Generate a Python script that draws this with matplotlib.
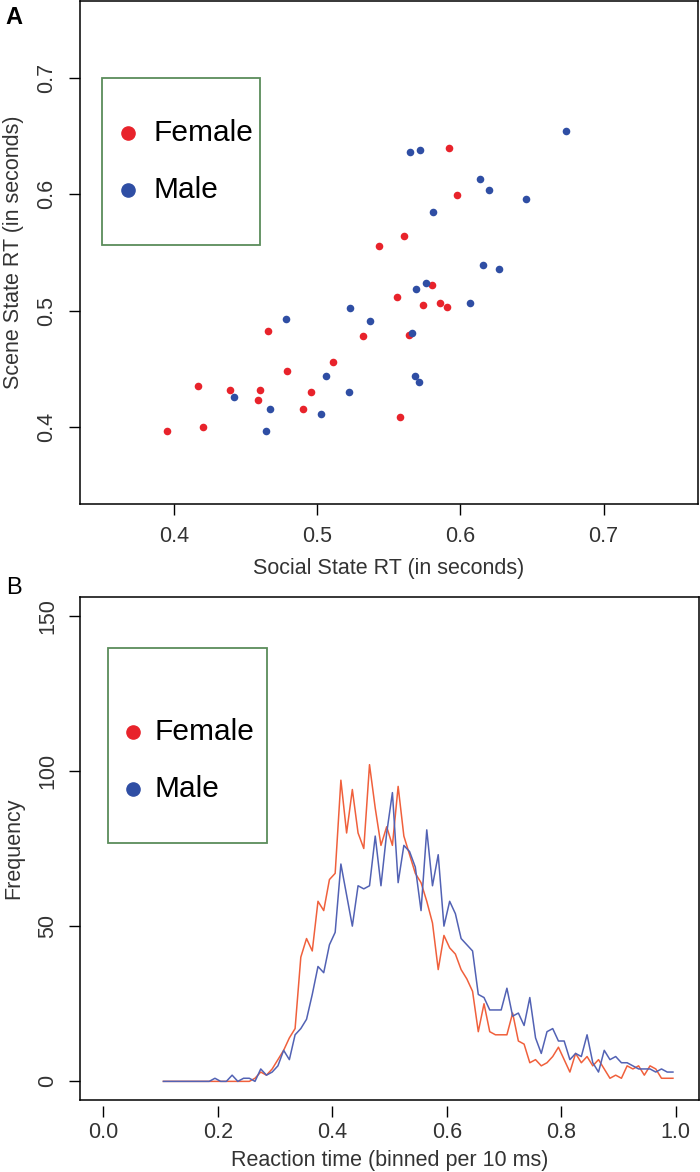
import matplotlib
matplotlib.use("Agg")
import matplotlib.pyplot as plt
from matplotlib.lines import Line2D
import numpy as np

plt.rcParams['font.family'] = ['Liberation Sans', 'DejaVu Sans']

# panel A: social vs scene state RT (seconds)
female_social = [0.395, 0.420, 0.417, 0.439, 0.460, 0.459, 0.466, 0.479, 0.490, 0.496,
                 0.511, 0.532, 0.543, 0.556, 0.558, 0.561, 0.564, 0.574, 0.580, 0.586,
                 0.591, 0.592, 0.598]
female_scene = [0.397, 0.400, 0.435, 0.432, 0.432, 0.423, 0.483, 0.448, 0.416, 0.430,
                0.456, 0.478, 0.556, 0.512, 0.409, 0.564, 0.479, 0.505, 0.522, 0.507,
                0.503, 0.640, 0.599]
male_social = [0.442, 0.464, 0.467, 0.478, 0.503, 0.506, 0.523, 0.522, 0.537, 0.565,
               0.566, 0.568, 0.572, 0.571, 0.569, 0.576, 0.581, 0.607, 0.614, 0.616,
               0.620, 0.627, 0.646, 0.674]
male_scene = [0.426, 0.397, 0.416, 0.493, 0.411, 0.444, 0.502, 0.430, 0.491, 0.636,
              0.481, 0.444, 0.638, 0.439, 0.519, 0.524, 0.585, 0.507, 0.613, 0.539,
              0.604, 0.536, 0.596, 0.654]

# panel B: RT histograms, 10 ms bins (bin centres 0.105 ... 0.995)
rt_bins = [round(0.105 + 0.01 * i, 3) for i in range(90)]
female_freq = [0, 0, 0, 0, 0, 0, 0, 0, 0, 0,
               0, 0, 0, 0, 0, 0, 1, 3, 2, 4,
               7, 10, 14, 17, 40, 46, 42, 58, 55, 65,
               67, 97, 80, 94, 80, 75, 102, 88, 76, 82,
               76, 95, 79, 73, 67, 64, 58, 51, 36, 47,
               43, 41, 36, 33, 29, 16, 25, 16, 15, 15,
               15, 22, 13, 12, 6, 7, 5, 6, 8, 11,
               7, 3, 9, 6, 8, 5, 7, 4, 1, 2,
               1, 5, 4, 5, 2, 5, 4, 1, 1, 1]
male_freq = [0, 0, 0, 0, 0, 0, 0, 0, 0, 1,
             0, 0, 2, 0, 1, 1, 0, 4, 2, 3,
             5, 10, 7, 15, 17, 20, 28, 37, 35, 44,
             48, 70, 60, 50, 63, 62, 63, 79, 63, 80,
             93, 64, 76, 74, 69, 55, 81, 63, 73, 50,
             58, 54, 46, 44, 42, 28, 27, 23, 23, 23,
             30, 21, 22, 18, 27, 14, 9, 16, 17, 13,
             13, 7, 9, 8, 15, 6, 3, 10, 7, 8,
             6, 6, 5, 4, 4, 4, 3, 4, 3, 3]

red_pt, blue_pt = "#e8232b", "#2f4ea4"
red_ln, blue_ln = "#f0603c", "#5262b4"
green = "#5b8c5b"
FS = 15.5

W, H = 700, 1172
fig = plt.figure(figsize=(W / 100, H / 100), dpi=100)


def px_axes(x0, x1, y0, y1):
    return fig.add_axes([x0 / W, 1 - y1 / H, (x1 - x0) / W, (y1 - y0) / H])


def style(ax, xpad):
    for s in ax.spines.values():
        s.set_linewidth(1.1)
    ax.tick_params(direction='out', length=8, width=1.0, labelsize=FS, labelcolor='#333333')
    ax.tick_params(axis='x', pad=xpad)
    ax.tick_params(axis='y', labelrotation=90, pad=8)
    for lab in ax.get_yticklabels():
        lab.set_verticalalignment('center')


def legend_box(ax, x0, x1, y0, y1, dot_x, text_x, y_f, y_m, col_f, col_m):
    ax.add_patch(plt.Rectangle((x0, y0), x1 - x0, y1 - y0, transform=ax.transAxes,
                               fill=False, edgecolor=green, lw=1.3, zorder=5))
    for yy, cc, name in [(y_f, col_f, "Female"), (y_m, col_m, "Male")]:
        ax.add_line(Line2D([dot_x], [yy], transform=ax.transAxes, marker='o',
                           markersize=9.5, color=cc, zorder=6))
        ax.text(text_x, yy, name, transform=ax.transAxes, fontsize=21.5,
                va='center', ha='left', zorder=6)


# ---- A ----
ax1 = px_axes(79.5, 698, 1, 504)
ax1.scatter(female_social, female_scene, s=30, color=red_pt, zorder=3, linewidths=0)
ax1.scatter(male_social, male_scene, s=30, color=blue_pt, zorder=3, linewidths=0)
ax1.set_xlim(0.334, 0.766)
ax1.set_ylim(0.334, 0.766)
ax1.set_xticks([0.4, 0.5, 0.6, 0.7])
ax1.set_yticks([0.4, 0.5, 0.6, 0.7])
ax1.set_xlabel("Social State RT (in seconds)", fontsize=FS, labelpad=8, color='#333333')
ax1.set_ylabel("Scene State RT (in seconds)", fontsize=FS, labelpad=9, color='#333333')
style(ax1, 8)
legend_box(ax1, 0.0369, 0.2918, 0.515, 0.847, 0.0789, 0.1193, 0.737, 0.624, red_pt, blue_pt)
fig.text(14 / W, 1 - 18 / H, "A", fontsize=17, fontweight='bold', ha='center', va='center')

# ---- B ----
ax2 = px_axes(80.4, 698.7, 597, 1100)
ax2.plot(rt_bins, female_freq, color=red_ln, lw=1.1)
ax2.plot(rt_bins, male_freq, color=blue_ln, lw=1.1)
ax2.set_xlim(-0.04, 1.04)
ax2.set_ylim(-6, 156)
ax2.set_xticks([0.0, 0.2, 0.4, 0.6, 0.8, 1.0])
ax2.set_xticklabels(["0.0", "0.2", "0.4", "0.6", "0.8", "1.0"])
ax2.set_yticks([0, 50, 100, 150])
ax2.set_xlabel("Reaction time (binned per 10 ms)", fontsize=FS, labelpad=5, color='#333333')
ax2.set_ylabel("Frequency", fontsize=FS, labelpad=9, color='#333333')
style(ax2, 4)
# x ticks sit slightly below the box in the original
ax2.spines['bottom'].set_position(('outward', 4))
ax2.spines['bottom'].set_visible(False)
ax2.plot([0, 1], [0, 0], transform=ax2.transAxes, color='k', lw=1.1, clip_on=False)
legend_box(ax2, 0.0451, 0.3013, 0.510, 0.899, 0.0856, 0.1193, 0.7325, 0.618, red_pt, blue_pt)
fig.text(14 / W, 1 - 588 / H, "B", fontsize=17, ha='center', va='center')

fig.savefig("out.png", dpi=100)
